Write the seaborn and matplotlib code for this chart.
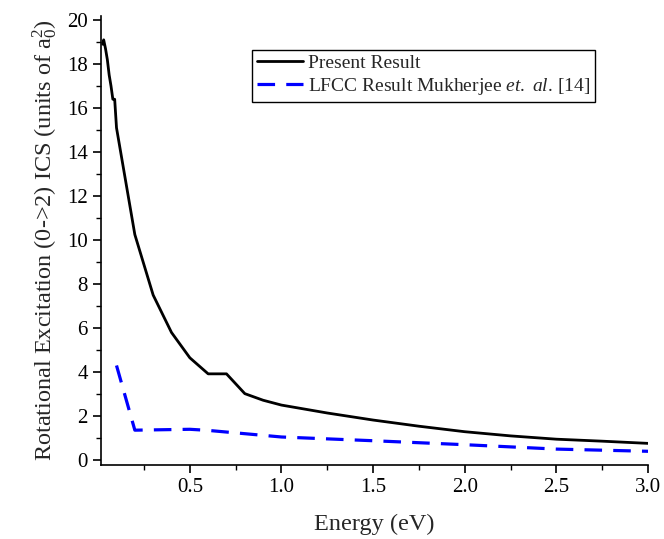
import matplotlib
matplotlib.use("Agg")
import matplotlib.pyplot as plt
from matplotlib.ticker import MultipleLocator, FormatStrFormatter
import seaborn as sns
import pandas as pd

# Data
present_energy = [0.025, 0.03, 0.04, 0.05, 0.06, 0.07, 0.08, 0.09, 0.1, 0.2, 0.3, 0.4,
                  0.5, 0.6, 0.7, 0.8, 0.9, 1.0, 1.25, 1.5, 1.75, 2.0, 2.25, 2.5, 2.75, 3.0]
present_ics = [18.9, 19.1, 18.7, 18.2, 17.5, 17.0, 16.4, 16.4, 15.1, 10.25, 7.5, 5.8,
               4.65, 3.92, 3.92, 3.02, 2.72, 2.5, 2.14, 1.82, 1.54, 1.29, 1.1, 0.95, 0.86, 0.76]
lfcc_energy = [0.1, 0.2, 0.5, 0.6, 1.0, 1.5, 2.0, 2.5, 3.0]
lfcc_ics = [4.3, 1.36, 1.4, 1.35, 1.05, 0.88, 0.7, 0.5, 0.4]

label_present = "Present Result"
label_lfcc = "LFCC Result Mukherjee $\\mathit{et.\\ al}$. [14]"

sns.set_theme(style="ticks")
plt.rcParams["font.family"] = ["Liberation Serif", "DejaVu Serif"]
plt.rcParams["mathtext.fontset"] = "custom"
plt.rcParams["mathtext.rm"] = "Liberation Serif"
plt.rcParams["mathtext.it"] = "Liberation Serif:italic"
plt.rcParams["mathtext.bf"] = "Liberation Serif:bold"

df_p = pd.DataFrame({"Energy": present_energy, "ICS": present_ics})
df_l = pd.DataFrame({"Energy": lfcc_energy, "ICS": lfcc_ics})

fig = plt.figure(figsize=(6.64, 5.39), dpi=100)
ax = fig.add_axes([0.152, 0.137, 0.824, 0.834])

sns.lineplot(data=df_p, x="Energy", y="ICS", ax=ax, color="black", linewidth=2.0,
             label=label_present, sort=False)
sns.lineplot(data=df_l, x="Energy", y="ICS", ax=ax, color="#0000ff", linewidth=2.3,
             label=label_lfcc, sort=False, dashes=False, linestyle=(0, (5.5, 3.5)))

ax.set_xlim(0.015, 3.0)
ax.set_ylim(-0.23, 20.2)
ax.xaxis.set_major_locator(MultipleLocator(0.5))
ax.xaxis.set_minor_locator(MultipleLocator(0.25))
ax.xaxis.set_major_formatter(FormatStrFormatter("%.1f"))
ax.yaxis.set_major_locator(MultipleLocator(2))
ax.yaxis.set_minor_locator(MultipleLocator(1))

ax.tick_params(which="major", direction="out", length=6, width=1.2, labelsize=15, colors="black")
ax.tick_params(which="minor", direction="out", length=3.5, width=1.0, colors="black")
for s in ["top", "right"]:
    ax.spines[s].set_visible(False)
for s in ["left", "bottom"]:
    ax.spines[s].set_linewidth(1.2)
    ax.spines[s].set_color("black")

ax.set_xlabel("Energy (eV)", fontsize=17.5, labelpad=12)
ax.set_ylabel("Rotational Excitation (0->2) ICS (units of a$_0^2$)", fontsize=17.5, labelpad=5)

leg = ax.legend(loc="upper left", bbox_to_anchor=(0.276, 0.924), fontsize=14,
                frameon=True, fancybox=False, edgecolor="black", framealpha=1,
                borderpad=0.25, labelspacing=0.2, handlelength=2.4, handletextpad=0.25,
                borderaxespad=0)
leg.get_frame().set_linewidth(1.0)

fig.savefig("out.png", dpi=100)
